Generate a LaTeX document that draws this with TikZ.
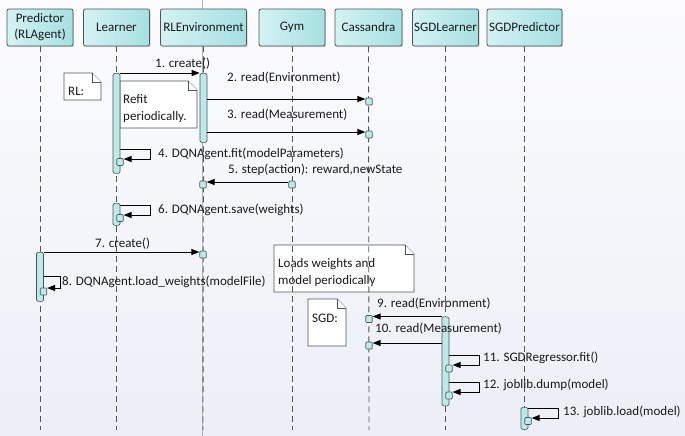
\documentclass[tikz,border=0pt]{standalone}
\usepackage{fontspec}
\setmainfont{Carlito}
\usetikzlibrary{arrows.meta,shadows}
\definecolor{hdrL}{HTML}{D4F2F3}
\definecolor{hdrR}{HTML}{A6E0E2}
\definecolor{hdrB}{HTML}{4A5658}
\definecolor{barF}{HTML}{BEE9EB}
\definecolor{lifeG}{HTML}{555555}
\definecolor{bgTop}{HTML}{FCFCFE}
\definecolor{bgBot}{HTML}{ECEFF7}
\definecolor{txt}{HTML}{1A1A1A}
\newcommand{\lblfont}{\fontsize{13}{16}\selectfont}
\tikzset{
  head/.style={draw=hdrB, line width=0.8pt, rounded corners=2pt, left color=hdrL, right color=hdrR,
    minimum height=37pt, align=center, font=\lblfont, text=txt, inner sep=0pt,
    drop shadow={shadow xshift=1.2pt, shadow yshift=-1.2pt, opacity=0.3, fill=gray}},
  life/.style={draw=lifeG, line width=0.9pt, dash pattern=on 6pt off 4pt},
  actbar/.style={draw=hdrB, line width=0.7pt, fill=barF, rounded corners=1.5pt, minimum width=7pt, inner sep=0pt},
  sqr/.style={draw=hdrB, line width=0.7pt, fill=barF, rounded corners=1pt, minimum width=6.5pt, minimum height=7pt, inner sep=0pt},
  msg/.style={draw=black, line width=1pt, -{Triangle[length=8pt,width=6pt]}},
  lbl/.style={font=\lblfont, text=txt, inner sep=0pt, anchor=west},
  notebox/.style={draw=hdrB, line width=0.8pt, fill=white},
  notetxt/.style={font=\lblfont, text=txt, inner sep=0pt, anchor=west, align=left},
}
\begin{document}
\begin{tikzpicture}[x=1pt,y=-1pt]
\useasboundingbox (0,0) rectangle (685,436);
\shade[top color=bgTop, bottom color=bgBot] (0,0) rectangle (685,436);

% notes (drawn under the lifelines)
\filldraw[notebox] (64,73) -- (92,73) -- (101,82) -- (101,100) -- (64,100) -- cycle;
\draw[notebox] (92,73) -- (92,82) -- (101,82);
\node[notetxt] (nRL) at (68,91) {RL:};

\filldraw[notebox] (120,81) -- (188,81) -- (197,90) -- (197,128) -- (120,128) -- cycle;
\draw[notebox] (188,81) -- (188,90) -- (197,90);
\node[notetxt] (nRefit) at (123,108.5) {Refit\\[0.5pt]periodically.};

\filldraw[notebox] (274,245) -- (405,245) -- (414,254) -- (414,292) -- (274,292) -- cycle;
\draw[notebox] (405,245) -- (405,254) -- (414,254);
\node[notetxt] (nLoads) at (278,272.5) {Loads weights and\\[0.5pt]model periodically};

\filldraw[notebox] (308,299) -- (337,299) -- (346,308) -- (346,346) -- (308,346) -- cycle;
\draw[notebox] (337,299) -- (337,308) -- (346,308);
\node[notetxt] (nSGD) at (312,318) {SGD:};

% page line through RLEnvironment
\draw[gray!60, line width=0.8pt] (202.5,0) -- (202.5,436);

% headers
\node[head, minimum width=66pt] (pred) at (40,27.5) {Predictor\\(RLAgent)};
\node[head, minimum width=66pt] (lrn) at (116.5,27.5) {Learner};
\node[head, minimum width=86pt] (env) at (203.5,27.5) {RLEnvironment};
\node[head, minimum width=66pt] (gym) at (292,27.5) {Gym};
\node[head, minimum width=67pt] (cas) at (368.5,27.5) {Cassandra};
\node[head, minimum width=66pt] (sgdl) at (445.5,27.5) {SGDLearner};
\node[head, minimum width=75pt] (sgdp) at (524.5,27.5) {SGDPredictor};

% lifelines
\draw[life] (pred.south) -- (40,430);
\draw[life] (lrn.south) -- (116.5,430);
\draw[life] (env.south) -- (203,430);
\draw[life] (gym.south) -- (292,430);
\draw[life] (cas.south) -- (369,430);
\draw[life] (sgdl.south) -- (445.5,430);
\draw[life] (sgdp.south) -- (524.5,430);

% activation bars
\node[actbar, minimum height=100pt, anchor=north] (lb1) at (116.5,73) {};
\node[actbar, minimum height=22pt, anchor=north] (lb2) at (116.5,203) {};
\node[actbar, minimum height=69pt, anchor=north] (rb) at (203.5,73) {};
\node[actbar, minimum height=49pt, anchor=north] (pb) at (40,252) {};
\node[actbar, minimum height=89pt, anchor=north] (sb) at (445.5,316.5) {};
\node[actbar, minimum height=22pt, anchor=north] (spb) at (524.5,407) {};

% message squares
\node[sqr] (sq2) at (369,101.5) {};
\node[sqr] (sq3) at (369,134.5) {};
\node[sqr] (sq4) at (120,162) {};
\node[sqr] (sq5g) at (292,184.5) {};
\node[sqr] (sq5r) at (203,184.5) {};
\node[sqr] (sq6) at (120,218) {};
\node[sqr] (sq7) at (203,254.5) {};
\node[sqr] (sq8) at (43.5,291.5) {};
\node[sqr] (sq9) at (369,319) {};
\node[sqr] (sq10) at (369,345.5) {};
\node[sqr] (sq11) at (449,368.5) {};
\node[sqr] (sq12) at (449,395.5) {};
\node[sqr] (sq13) at (528,421) {};

% messages
\draw[msg] (lb1.north east) -- (rb.north west);
\node[lbl] (l1) at (155,64) {1. create()};

\draw[msg] (rb.east |- 0,99) -- (sq2.west |- 0,99);
\node[lbl] (l2) at (227,78) {2. read(Environment)};

\draw[msg] (rb.east |- 0,132) -- (sq3.west |- 0,132);
\node[lbl] (l3) at (227,115) {3. read(Measurement)};

\draw[msg] (lb1.east |- 0,149) -- (150,149) -- (150,159) -- (sq4.east |- 0,159);
\node[lbl] (l4) at (158,154) {4. DQNAgent.fit(modelParameters)};

\draw[msg] (sq5g.west |- 0,182) -- (sq5r.east |- 0,182);
\node[lbl] (l5) at (228,170) {5. step(action): reward,newState};

\draw[msg] (lb2.east |- 0,205) -- (150,205) -- (150,215) -- (sq6.east |- 0,215);
\node[lbl] (l6) at (158,210) {6. DQNAgent.save(weights)};

\draw[msg] (pb.north east) -- (sq7.west |- pb.north);
\node[lbl] (l7) at (95,244) {7. create()};

\draw[msg] (pb.east |- 0,276) -- (60,276) -- (60,288) -- (sq8.east |- 0,288);
\node[lbl] (l8) at (62,282) {8. DQNAgent.load\_weights(modelFile)};

\draw[msg] (sb.north west) -- (sq9.east |- sb.north);
\node[lbl] (l9) at (377,304) {9. read(Environment)};

\draw[msg] (sb.west |- 0,343) -- (sq10.east |- 0,343);
\node[lbl] (l10) at (375,329) {10. read(Measurement)};

\draw[msg] (sb.east |- 0,355) -- (479,355) -- (479,365) -- (sq11.east |- 0,365);
\node[lbl] (l11) at (483,358) {11. SGDRegressor.fit()};

\draw[msg] (sb.east |- 0,382) -- (479,382) -- (479,392) -- (sq12.east |- 0,392);
\node[lbl] (l12) at (483,385) {12. joblib.dump(model)};

\draw[msg] (spb.east |- 0,408) -- (558,408) -- (558,418) -- (sq13.east |- 0,418);
\node[lbl] (l13) at (563,412) {13. joblib.load(model)};
\end{tikzpicture}
\end{document}
